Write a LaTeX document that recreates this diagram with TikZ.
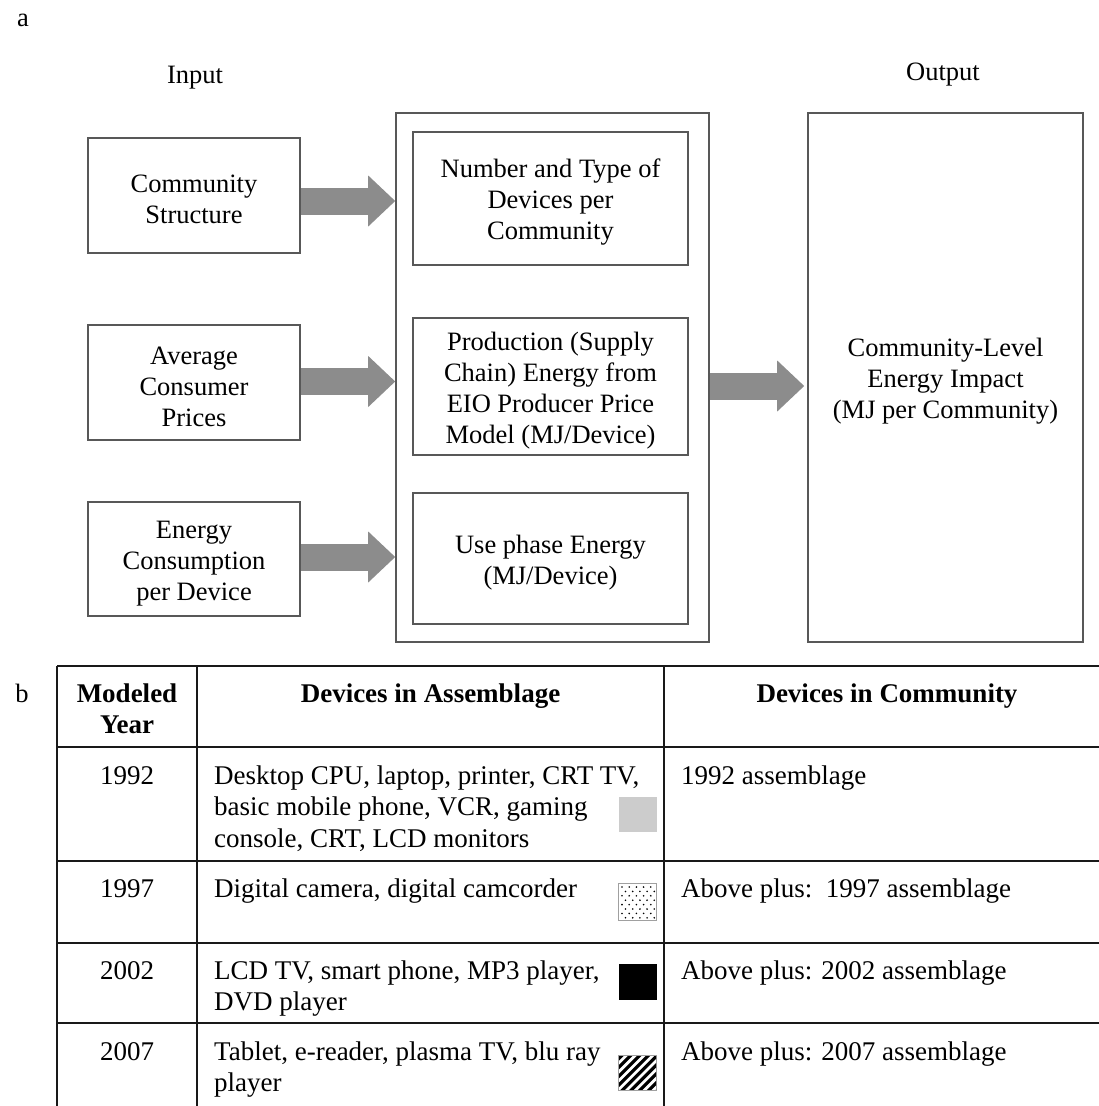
\documentclass[tikz,border=0pt]{standalone}
\usepackage{fontspec}
\setmainfont{Liberation Serif}
\usetikzlibrary{arrows.meta}
\definecolor{boxgray}{RGB}{88,88,88}
\definecolor{arrowgray}{RGB}{140,140,140}
\definecolor{swatchgray}{RGB}{204,204,204}
\definecolor{swatchedge}{RGB}{160,160,160}
\newcommand{\mainfs}{\fontsize{26.5}{31}\selectfont}
\newcommand{\tabfs}{\fontsize{27}{31.5}\selectfont}
% strut that fixes the height of a cell's first line
\newcommand{\fl}{\rule{0pt}{21pt}}
% taller strut for the first line inside the diagram boxes
\newcommand{\bl}{\rule{0pt}{26pt}}
\begin{document}
\begin{tikzpicture}[x=1pt,y=-1pt,
  box/.style={draw=boxgray, line width=1.6pt, align=center, inner sep=0pt, font=\mainfs},
  lbl/.style={inner sep=0pt, font=\mainfs},
  bigarrow/.style={draw=arrowgray, line width=27pt,
    -{Triangle[length=27pt 0 0, width=51pt 0 0, line width=0pt]}},
  tline/.style={draw=black!90, line width=2pt},
  cell/.style={inner sep=0pt, font=\tabfs},
  hcell/.style={inner sep=0pt, font=\tabfs\bfseries, align=center},
  swatch/.style={line width=1pt}
]
\useasboundingbox (0,0) rectangle (1099,1106);

% ---------- part a ----------
\node[lbl] (la) at (23,20) {a};
\node[lbl] (inp) at (195,78) {Input};
\node[lbl] (outp) at (943,75) {Output};

\node[box, minimum width=212pt, minimum height=115pt] (c1) at (194,195.5) {\bl Community\\Structure};
\node[box, minimum width=212pt, minimum height=115pt] (c2) at (194,382.5) {\bl Average\\Consumer\\Prices};
\node[box, minimum width=212pt, minimum height=114pt] (c3) at (194,559) {\bl Energy\\Consumption\\per Device};

\node[box, minimum width=313pt, minimum height=529pt] (mid) at (552.5,377.5) {};
\node[box, minimum width=275pt, minimum height=133pt] (m1) at (550.5,198.5) {\bl Number and Type of\\Devices per\\Community};
\node[box, minimum width=275pt, minimum height=137pt] (m2) at (550.5,386.5) {\bl Production (Supply\\Chain) Energy from\\EIO Producer Price\\Model (MJ/Device)};
\node[box, minimum width=275pt, minimum height=131pt] (m3) at (550.5,558.5) {\bl Use phase Energy\\(MJ/Device)};

\node[box, minimum width=275pt, minimum height=529pt] (out) at (945.5,377.5) {\bl Community-Level\\Energy Impact\\(MJ per Community)};

% broad arrows
\coordinate (a1s) at ([yshift=-5.5pt]c1.east);
\coordinate (a2s) at ([yshift=1pt]c2.east);
\coordinate (a3s) at ([yshift=2pt]c3.east);
\coordinate (a4s) at ([yshift=-8.5pt]mid.east);
\draw[bigarrow] (a1s) -- (a1s -| mid.west);
\draw[bigarrow] (a2s) -- (a2s -| mid.west);
\draw[bigarrow] (a3s) -- (a3s -| mid.west);
\draw[bigarrow] (a4s) -- ([xshift=-3pt]a4s -| out.west);

% ---------- part b ----------
\node[lbl] (lb) at (22,693) {b};

% table rules
\foreach \yy in {666,747,861,943,1023}
  \draw[tline] (57,\yy) -- (1120,\yy);
\foreach \xx in {57,197,664}
  \draw[tline] (\xx,666) -- (\xx,1120);

% header
\node[hcell, anchor=north] (h0) at (127,681) {\fl Modeled\\Year};
\node[hcell, anchor=north] (h1) at (430.5,681) {\fl Devices in Assemblage};
\node[hcell, anchor=north] (h2) at (887,681) {\fl Devices in Community};

% rows
\node[cell, anchor=north] (y1) at (127,763) {\fl 1992};
\node[cell, anchor=north west, align=left] (d1) at (214,763) {\fl Desktop CPU, laptop, printer, CRT TV,\\basic mobile phone, VCR, gaming\\console, CRT, LCD monitors};
\node[cell, anchor=north west, align=left] (e1) at (681,763) {\fl 1992 assemblage};

\node[cell, anchor=north] (y2) at (127,876) {\fl 1997};
\node[cell, anchor=north west, align=left] (d2) at (214,876) {\fl Digital camera, digital camcorder};
\node[cell, anchor=north west, align=left] (e2) at (681,876) {\fl Above plus:\ \ 1997 assemblage};

\node[cell, anchor=north] (y3) at (127,958) {\fl 2002};
\node[cell, anchor=north west, align=left] (d3) at (214,958) {\fl LCD TV, smart phone, MP3 player,\\DVD player};
\node[cell, anchor=north west, align=left] (e3) at (681,958) {\fl Above plus: 2002 assemblage};

\node[cell, anchor=north] (y4) at (127,1039) {\fl 2007};
\node[cell, anchor=north west, align=left] (d4) at (214,1039) {\fl Tablet, e-reader, plasma TV, blu ray\\player};
\node[cell, anchor=north west, align=left] (e4) at (681,1039) {\fl Above plus: 2007 assemblage};

% swatches
\fill[swatchgray] (619,797) rectangle (657,832);

\draw[swatch, draw=swatchedge, fill=white] (618.5,883.5) rectangle (656.5,920);
\foreach \i in {0,...,7}{
  \pgfmathsetmacro{\off}{mod(\i,2)*3.5}
  \foreach \j in {0,...,4}
    \fill[black] (622+\off+\j*7.2, 887+\i*4.4) circle (0.9pt);
}

\fill[black] (619,964) rectangle (657,1000);

\draw[swatch, draw=swatchedge] (618.5,1055.5) rectangle (656.5,1090);
\begin{scope}
  \clip (619,1056) rectangle (656,1089.5);
  \foreach \k in {-5,...,9}
    \draw[black, line width=3.2pt] (600+\k*8.8,1095) -- (645+\k*8.8,1050);
\end{scope}
\end{tikzpicture}
\end{document}
